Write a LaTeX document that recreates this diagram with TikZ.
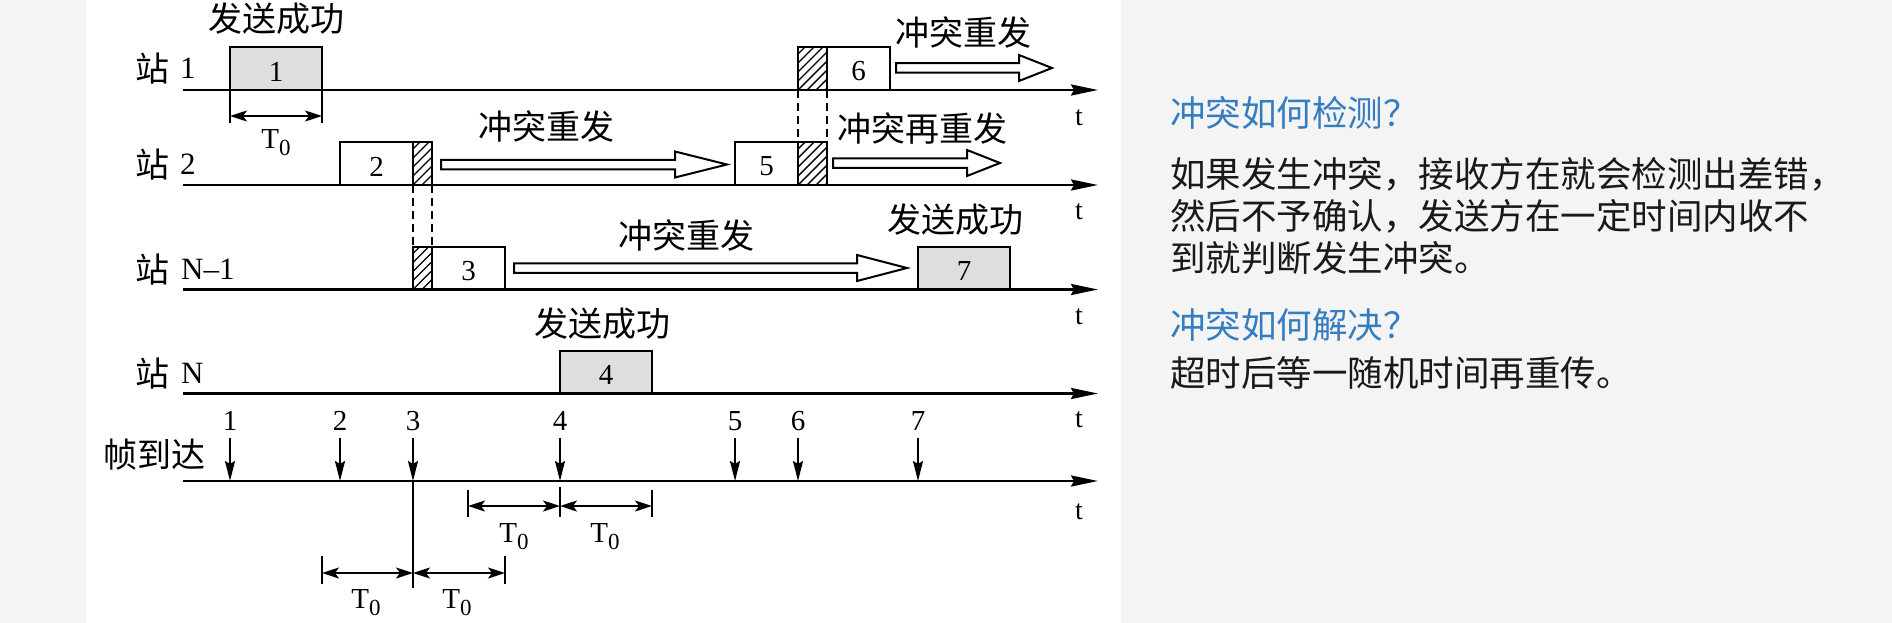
\documentclass[tikz,border=0pt]{standalone}
\usepackage{fontspec}
\setmainfont{Liberation Serif}
\newfontfamily\cjk{Noto Sans CJK SC}
\usetikzlibrary{arrows.meta}
\definecolor{bgside}{RGB}{244,244,244}
\definecolor{boxgray}{RGB}{222,222,222}
\definecolor{headblue}{RGB}{52,125,192}
\definecolor{bodyblack}{RGB}{25,25,25}
\newcommand\Tz{T\raisebox{-7pt}{\fontsize{23}{23}\selectfont 0}}
\newcommand\stnum[1]{{\rmfamily\fontsize{31}{34}\selectfont\raisebox{3pt}{#1}}}
\newcommand\hArrow[4]{\draw[hollow] (#1,#4-4.75) -- (#3,#4-4.75) -- (#3,#4-13) -- (#2,#4) -- (#3,#4+13) -- (#3,#4+4.75) -- (#1,#4+4.75) -- cycle;}
\newcommand\hatchbox[4]{\begin{scope}\clip (#1,#3) rectangle (#2,#4);\foreach \k in {-45,-36,...,36}{\draw[hatchline] (#1+\k,#4) -- ++(50,-50);}\end{scope}}
\begin{document}
\begin{tikzpicture}[x=1pt,y=-1pt,
  axis/.style={line width=2.6pt,-{Stealth[length=27pt,width=11pt,inset=3pt]}},
  boxline/.style={draw,line width=2pt},
  hatchline/.style={line width=1.4pt},
  dim/.style={line width=2pt,{Stealth[length=17pt,width=11pt,inset=4pt]}-{Stealth[length=17pt,width=11pt,inset=4pt]}},
  arrive/.style={line width=2pt,-{Stealth[length=20pt,width=10pt,inset=3pt]}},
  tick/.style={line width=1.6pt},
  hollow/.style={draw,line width=2pt,fill=white,line join=miter},
  dashline/.style={dash pattern=on 8pt off 5pt,line width=1.6pt},
  cn/.style={font=\cjk\fontsize{34}{40}\selectfont,inner sep=0pt},
  num/.style={font=\fontsize{29}{34}\selectfont,inner sep=0pt},
  tl/.style={font=\fontsize{28}{34}\selectfont,inner sep=0pt},
  rt/.style={font=\cjk\fontsize{35.5}{42}\selectfont,inner sep=0pt,anchor=west,text=bodyblack},
  hd/.style={rt,text=headblue}]
\useasboundingbox (0,0) rectangle (1892,623);
\fill[bgside] (0,0) rectangle (86,623);
\fill[white] (86,0) rectangle (1121,623);
\fill[bgside] (1121,0) rectangle (1892,623);

% ---- station 1 boxes
\draw[boxline,fill=boxgray] (230,47) rectangle (322,90);
\node[num] (n1) at (276,71.5) {1};
\hatchbox{798}{827}{47}{90}
\draw[boxline] (798,47) rectangle (890,90);
\draw[boxline] (827,47) -- (827,90);
\node[num] (n6) at (858.5,71.5) {6};
% ---- station 2 boxes
\hatchbox{413}{432}{142}{185}
\draw[boxline] (340,142) rectangle (432,185);
\draw[boxline] (413,142) -- (413,185);
\node[num] (n2) at (376.5,166.5) {2};
\hatchbox{798}{827}{142}{185}
\draw[boxline] (735,142) rectangle (827,185);
\draw[boxline] (798,142) -- (798,185);
\node[num] (n5) at (766.5,166.5) {5};
% ---- station N-1 boxes
\hatchbox{413}{432}{246.5}{289.5}
\draw[boxline] (413,246.5) rectangle (505,289.5);
\draw[boxline] (432,246.5) -- (432,289.5);
\node[num] (n3) at (468.5,271) {3};
\draw[boxline,fill=boxgray] (918,246.5) rectangle (1010,289.5);
\node[num] (n7) at (964,271) {7};
% ---- station N box
\draw[boxline,fill=boxgray] (560,350.5) rectangle (652,393.5);
\node[num] (n4) at (606,375) {4};

% ---- dashed collision guides
\draw[dashline] (413,185) -- (413,246.5);
\draw[dashline] (432,185) -- (432,246.5);
\draw[dashline] (798,90) -- (798,142);
\draw[dashline] (827,90) -- (827,142);

% ---- time axes
\foreach \n/\y in {1/90,2/185,3/289.5,4/393.5,5/481}{
  \coordinate (L\n) at (183,\y);
  \coordinate (R\n) at (1098,\y);
  \draw[axis] (L\n) -- (R\n);
}
\foreach \n/\y in {1/118,2/212,3/317,4/420,5/512}{
  \node[tl] (t\n) at (1079,\y) {t};
}

% ---- station labels
\node[cn,anchor=west] (st1) at (135,69) {站\hspace{11pt}\stnum{1}};
\node[cn,anchor=west] (st2) at (135,165) {站\hspace{11pt}\stnum{2}};
\node[cn,anchor=west] (st3) at (135,270) {站\hspace{12pt}\stnum{N--1}};
\node[cn,anchor=west] (st4) at (135,374) {站\hspace{12pt}\stnum{N}};
\node[cn] (fd) at (154,455) {帧到达};

% ---- hollow retransmission arrows
\hArrow{896}{1052}{1019}{68}
\hArrow{441}{727}{675}{164.5}
\hArrow{833}{1000}{967}{163}
\hArrow{514}{907}{857}{268}

% ---- diagram labels
\node[cn] (ok1) at (276,19) {发送成功};
\node[cn] (re1) at (963,33) {冲突重发};
\node[cn] (re2) at (546,127) {冲突重发};
\node[cn] (rr2) at (922,129) {冲突再重发};
\node[cn] (re3) at (686,236) {冲突重发};
\node[cn] (ok7) at (955,220) {发送成功};
\node[cn] (ok4) at (602,324) {发送成功};

% ---- T0 at station 1
\draw[tick] (230,90) -- (230,123);
\draw[tick] (322,90) -- (322,123);
\coordinate (d1a) at (230,116);
\coordinate (d1b) at (322,116);
\draw[dim] (d1a) -- (d1b);
\node[num] (T1) at (276,143) {\Tz};

% ---- frame arrivals
\foreach \n/\x in {1/230,2/340,3/413,4/560,5/735,6/798,7/918}{
  \node[num] (a\n) at (\x,421) {\n};
  \draw[arrive] ([yshift=-7pt]a\n.south) -- (a\n.south |- L5);
}

% ---- T0 spans below the frame axis
\draw[tick] (468,490) -- (468,517);
\draw[tick] (560,487) -- (560,517);
\draw[tick] (652,490) -- (652,517);
\coordinate (u1) at (468,506);
\coordinate (u2) at (560,506);
\coordinate (u3) at (652,506);
\draw[dim] (u1) -- (u2);
\draw[dim] (u2) -- (u3);
\node[num] (T2) at (514,537) {\Tz};
\node[num] (T3) at (605,537) {\Tz};

\draw[tick] (322,556) -- (322,584);
\draw[tick] (505,556) -- (505,584);
\draw[tick] (413,481) -- (413,588);
\coordinate (w1) at (322,573);
\coordinate (w2) at (413,573);
\coordinate (w3) at (505,573);
\draw[dim] (w1) -- (w2);
\draw[dim] (w2) -- (w3);
\node[num] (T4) at (366,603) {\Tz};
\node[num] (T5) at (457,603) {\Tz};

% ---- right panel text
\node[hd] (h1) at (1170,113) {冲突如何检测？};
\node[rt] (b1) at (1170,174) {如果发生冲突，接收方在就会检测出差错，};
\node[rt] (b2) at (1170,216) {然后不予确认，发送方在一定时间内收不};
\node[rt] (b3) at (1170,258) {到就判断发生冲突。};
\node[hd] (h2) at (1170,325) {冲突如何解决？};
\node[rt] (b4) at (1170,373) {超时后等一随机时间再重传。};
\end{tikzpicture}
\end{document}
